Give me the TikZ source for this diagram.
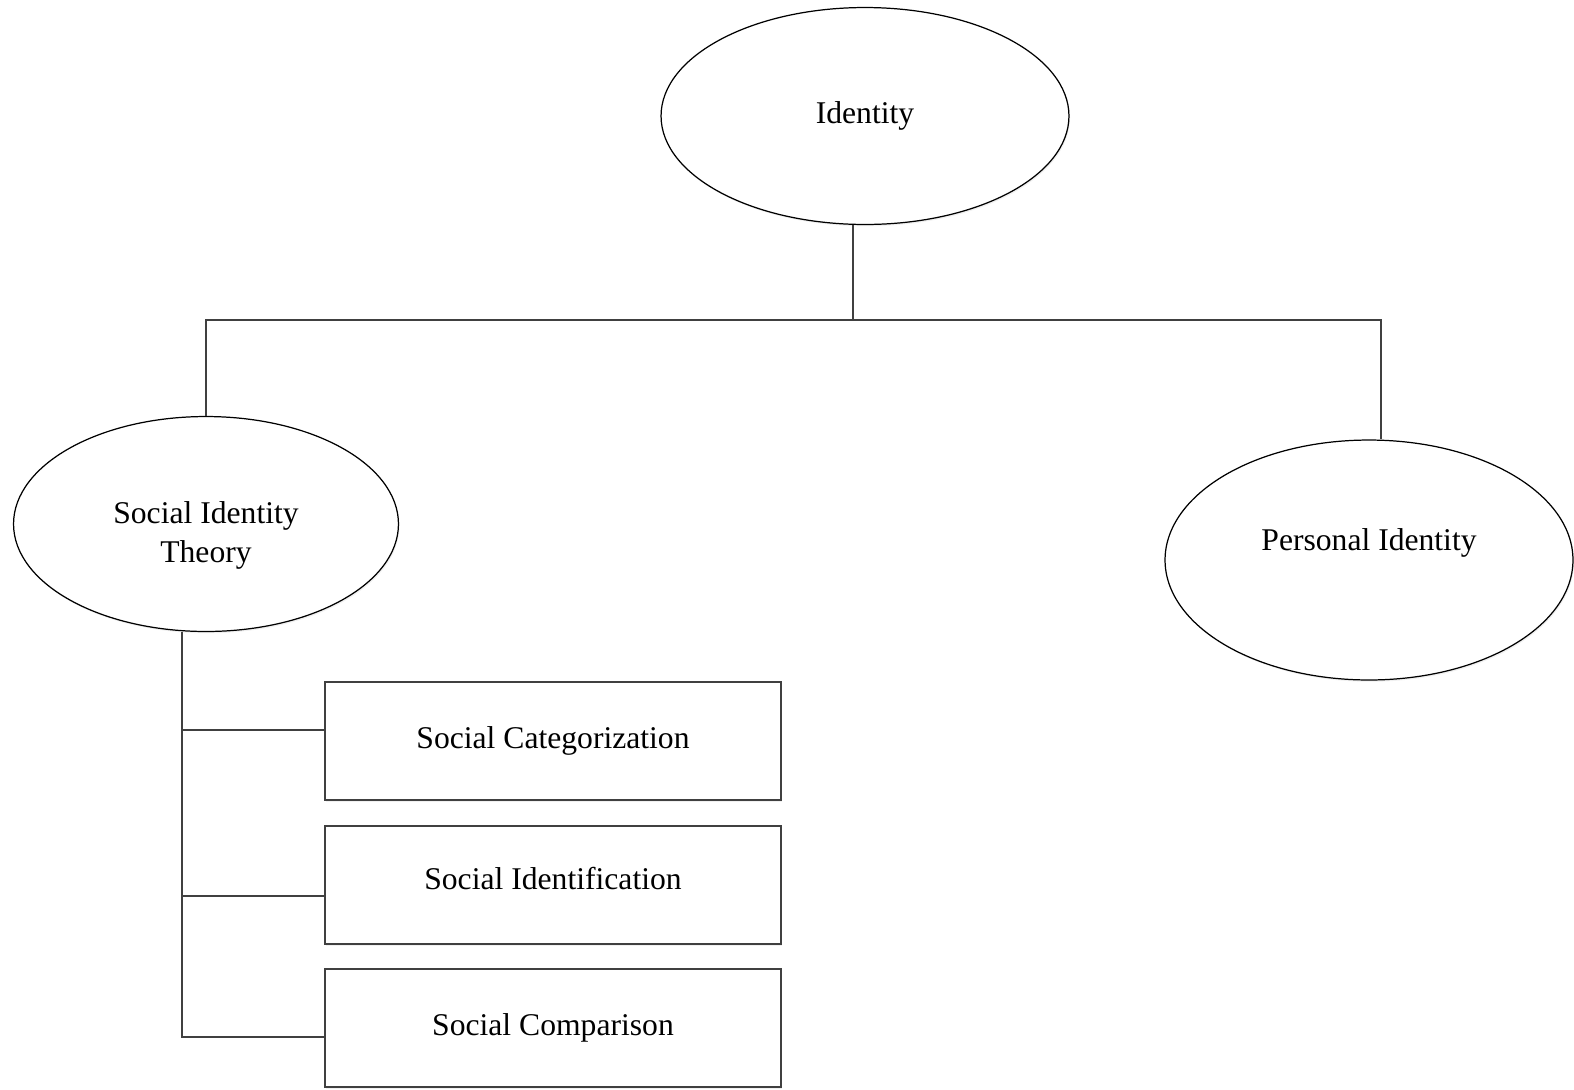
\documentclass[tikz,border=0pt]{standalone}
\usepackage{fontspec}
\setmainfont{Liberation Serif}
\usetikzlibrary{shapes.geometric, shadows}

\tikzset{
    blob/.style={draw=black, ellipse, fill=white, line width=0.7pt, align=center,
        drop shadow={shadow xshift=0.6pt, shadow yshift=-1pt, opacity=0.12}},
    card/.style={draw=black!75, rectangle, fill=white, line width=0.9pt,
        minimum width=9.12cm, minimum height=2.36cm,
        drop shadow={shadow xshift=0.6pt, shadow yshift=-1pt, opacity=0.12}},
    link/.style={draw=black!75, line width=0.9pt}
}

\begin{document}
\begin{tikzpicture}[x=0.02cm, y=-0.02cm, font=\fontsize{18}{22}\selectfont]
    % Canvas
    \useasboundingbox (0,0) rectangle (1574,1089);

    % Ellipses
    \node[blob, minimum width=8.16cm, minimum height=4.34cm] (top) at (865,116) {Identity};
    \node[blob, minimum width=7.7cm, minimum height=4.3cm] (sit) at (206,524) {};
    \node[align=center] (sitlabel) at ([yshift=-6.5pt]sit.center) {Social Identity\\Theory};
    \node[blob, minimum width=8.16cm, minimum height=4.8cm, text depth=0.8cm] (pers) at (1369,560) {Personal Identity};

    % Boxes
    \node[card] (cat) at (553,741) {Social Categorization};
    \node[card, text depth=0.25cm] (idf) at (553,885) {Social Identification};
    \node[card] (cmp) at (553,1028) {Social Comparison};

    % Junction points
    \coordinate (hub) at (853,320);
    \coordinate (rc) at (1381,320);
    \coordinate (j1) at (182,730);
    \coordinate (j2) at (182,896);
    \coordinate (j3) at (182,1037);

    % Top level tree
    \draw[link] (hub |- top.south) -- (hub);
    \draw[link] (sit.north) |- (hub) -- (rc) -- (rc |- pers.north);

    % Left branches
    \draw[link] (j1 |- sit.south) -- (j3) -- (j3 -| cmp.west);
    \foreach \j/\b in {j1/cat, j2/idf}
    {
        \draw[link] (\j) -- (\j -| \b.west);
    }
\end{tikzpicture}
\end{document}
